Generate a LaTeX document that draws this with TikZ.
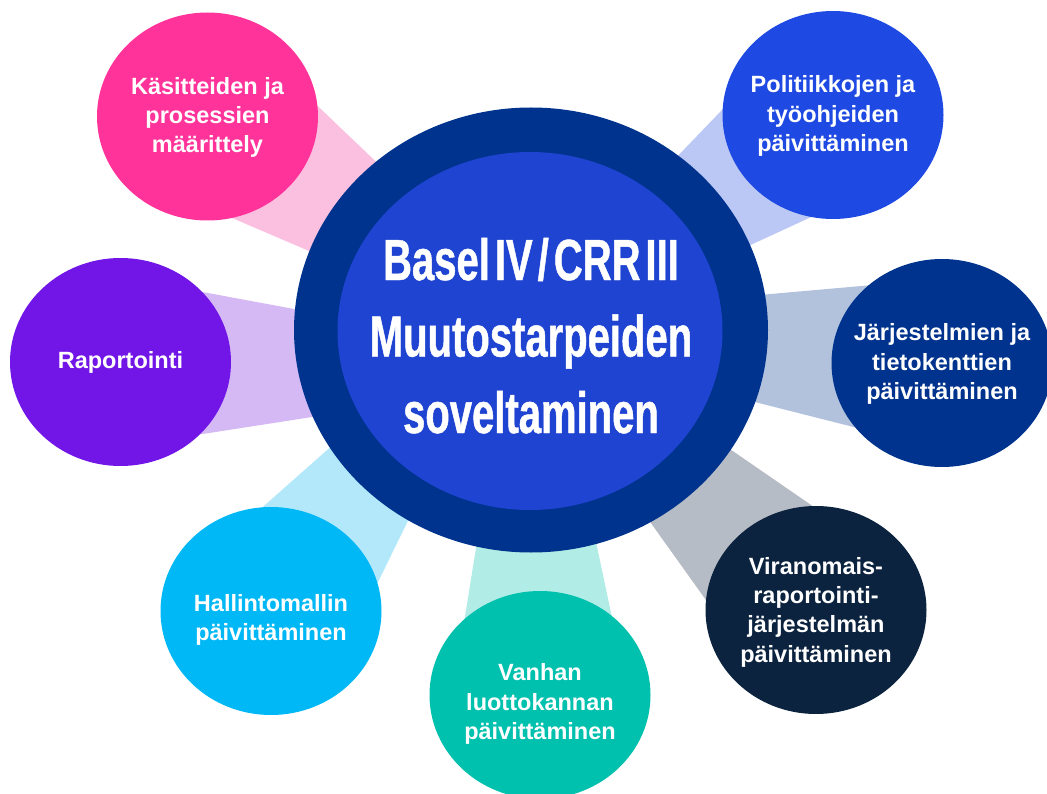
\documentclass[tikz,border=0pt]{standalone}
\usepackage{fontspec}
\setmainfont{Liberation Sans}
\newfontfamily\headfont[FakeStretch=0.69,FakeBold=0.8,WordSpace=0.45]{Liberation Sans}
\usetikzlibrary{shapes.geometric,calc,backgrounds}

\definecolor{ringNavy}{HTML}{00338D}
\definecolor{coreBlue}{HTML}{1E44D1}
\definecolor{cPink}{HTML}{FF3399}   \definecolor{bPink}{HTML}{FBC0E0}
\definecolor{cPurple}{HTML}{7216E8} \definecolor{bPurple}{HTML}{D4B9F5}
\definecolor{cSky}{HTML}{00B8F5}    \definecolor{bSky}{HTML}{B3E8FB}
\definecolor{cTeal}{HTML}{00C0AE}   \definecolor{bTeal}{HTML}{B2ECE6}
\definecolor{cInk}{HTML}{0C233F}    \definecolor{bInk}{HTML}{B6BCC5}
\definecolor{cNavy}{HTML}{00338D}   \definecolor{bNavy}{HTML}{B2C2DD}
\definecolor{cBlue}{HTML}{1E49E2}   \definecolor{bBlue}{HTML}{BBC8F5}

\tikzset{
  sat/.style={ellipse, minimum width=221pt, minimum height=208pt, inner sep=0pt},
  sattext/.style={text=white, align=center, font=\fontsize{23.5}{29.3}\selectfont\bfseries},
  hubtext/.style={text=white, align=center, font=\headfont\fontsize{58}{76.5}\selectfont\bfseries}
}

\begin{document}
\begin{tikzpicture}[x=1pt,y=-1pt] % Basel IV hub and its seven tasks
  \useasboundingbox (0,0) rectangle (1047,794);

  \node[ellipse, fill=ringNavy, minimum width=474pt, minimum height=445pt, inner sep=0pt] (main) at (531,330) {};
  \node[ellipse, fill=coreBlue, minimum width=385pt, minimum height=358pt, inner sep=0pt] (core) at (530,331) {};

  \node[sat, fill=cPink] (kasitteet) at (207.5,116.5) {};
  \node[sat, fill=cPurple] (raportointi) at (120.5,362) {};
  \node[sat, fill=cSky] (hallinto) at (271,611) {};
  \node[sat, fill=cTeal] (luottokanta) at (540,695) {};
  \node[sat, fill=cInk] (viranomais) at (816,610) {};
  \node[sat, fill=cNavy] (jarjestelmat) at (942,363) {};
  \node[sat, fill=cBlue] (politiikat) at (833,115) {};

  \node[hubtext, anchor=base] (ttl) at (531,433) {Basel IV / CRR III\\Muutostarpeiden\\soveltaminen};

  \node[sattext] (kasitteet-t) at ([yshift=-1pt]kasitteet.center) {Käsitteiden ja\\prosessien\\määrittely};
  \node[sattext] (raportointi-t) at (raportointi.center) {Raportointi};
  \node[sattext] (hallinto-t) at ([yshift=-9pt]hallinto.center) {Hallintomallin\\päivittäminen};
  \node[sattext] (luottokanta-t) at ([yshift=-9pt]luottokanta.center) {Vanhan\\luottokannan\\päivittäminen};
  \node[sattext] (viranomais-t) at ([yshift=-2pt]viranomais.center) {Viranomais-\\raportointi-\\järjestelmän\\päivittäminen};
  \node[sattext] (jarjestelmat-t) at ([yshift=-1pt]jarjestelmat.center) {Järjestelmien ja\\tietokenttien\\päivittäminen};
  \node[sattext] (politiikat-t) at ([yshift=-1pt]politiikat.center) {Politiikkojen ja\\työohjeiden\\päivittäminen};

  \coordinate (aimR) at (531,368);
  \coordinate (aimH) at (485,330);

  % beams behind the circles
  \begin{scope}[on background layer]
    \fill[bPink] ($(kasitteet)!85pt!90:(main)$) -- ($(main)!15pt!-90:(kasitteet)$) -- ($(main)!15pt!90:(kasitteet)$) -- ($(kasitteet)!85pt!-90:(main)$) -- cycle;
    \fill[bPurple] ($(raportointi)!85pt!90:(aimR)$) -- ($(aimR)!15pt!-90:(raportointi)$) -- ($(aimR)!15pt!90:(raportointi)$) -- ($(raportointi)!85pt!-90:(aimR)$) -- cycle;
    \fill[bSky] ($(hallinto)!85pt!90:(aimH)$) -- ($(aimH)!15pt!-90:(hallinto)$) -- ($(aimH)!15pt!90:(hallinto)$) -- ($(hallinto)!85pt!-90:(aimH)$) -- cycle;
    \fill[bTeal] ($(luottokanta)!88pt!90:(main)$) -- ($(main)!20pt!-90:(luottokanta)$) -- ($(main)!20pt!90:(luottokanta)$) -- ($(luottokanta)!88pt!-90:(main)$) -- cycle;
    \fill[bInk] ($(viranomais)!85pt!90:(main)$) -- ($(main)!15pt!-90:(viranomais)$) -- ($(main)!15pt!90:(viranomais)$) -- ($(viranomais)!85pt!-90:(main)$) -- cycle;
    \fill[bNavy] ($(jarjestelmat)!85pt!90:(main)$) -- ($(main)!15pt!-90:(jarjestelmat)$) -- ($(main)!15pt!90:(jarjestelmat)$) -- ($(jarjestelmat)!85pt!-90:(main)$) -- cycle;
    \fill[bBlue] ($(politiikat)!85pt!90:(main)$) -- ($(main)!15pt!-90:(politiikat)$) -- ($(main)!15pt!90:(politiikat)$) -- ($(politiikat)!85pt!-90:(main)$) -- cycle;
  \end{scope}
\end{tikzpicture}
\end{document}
